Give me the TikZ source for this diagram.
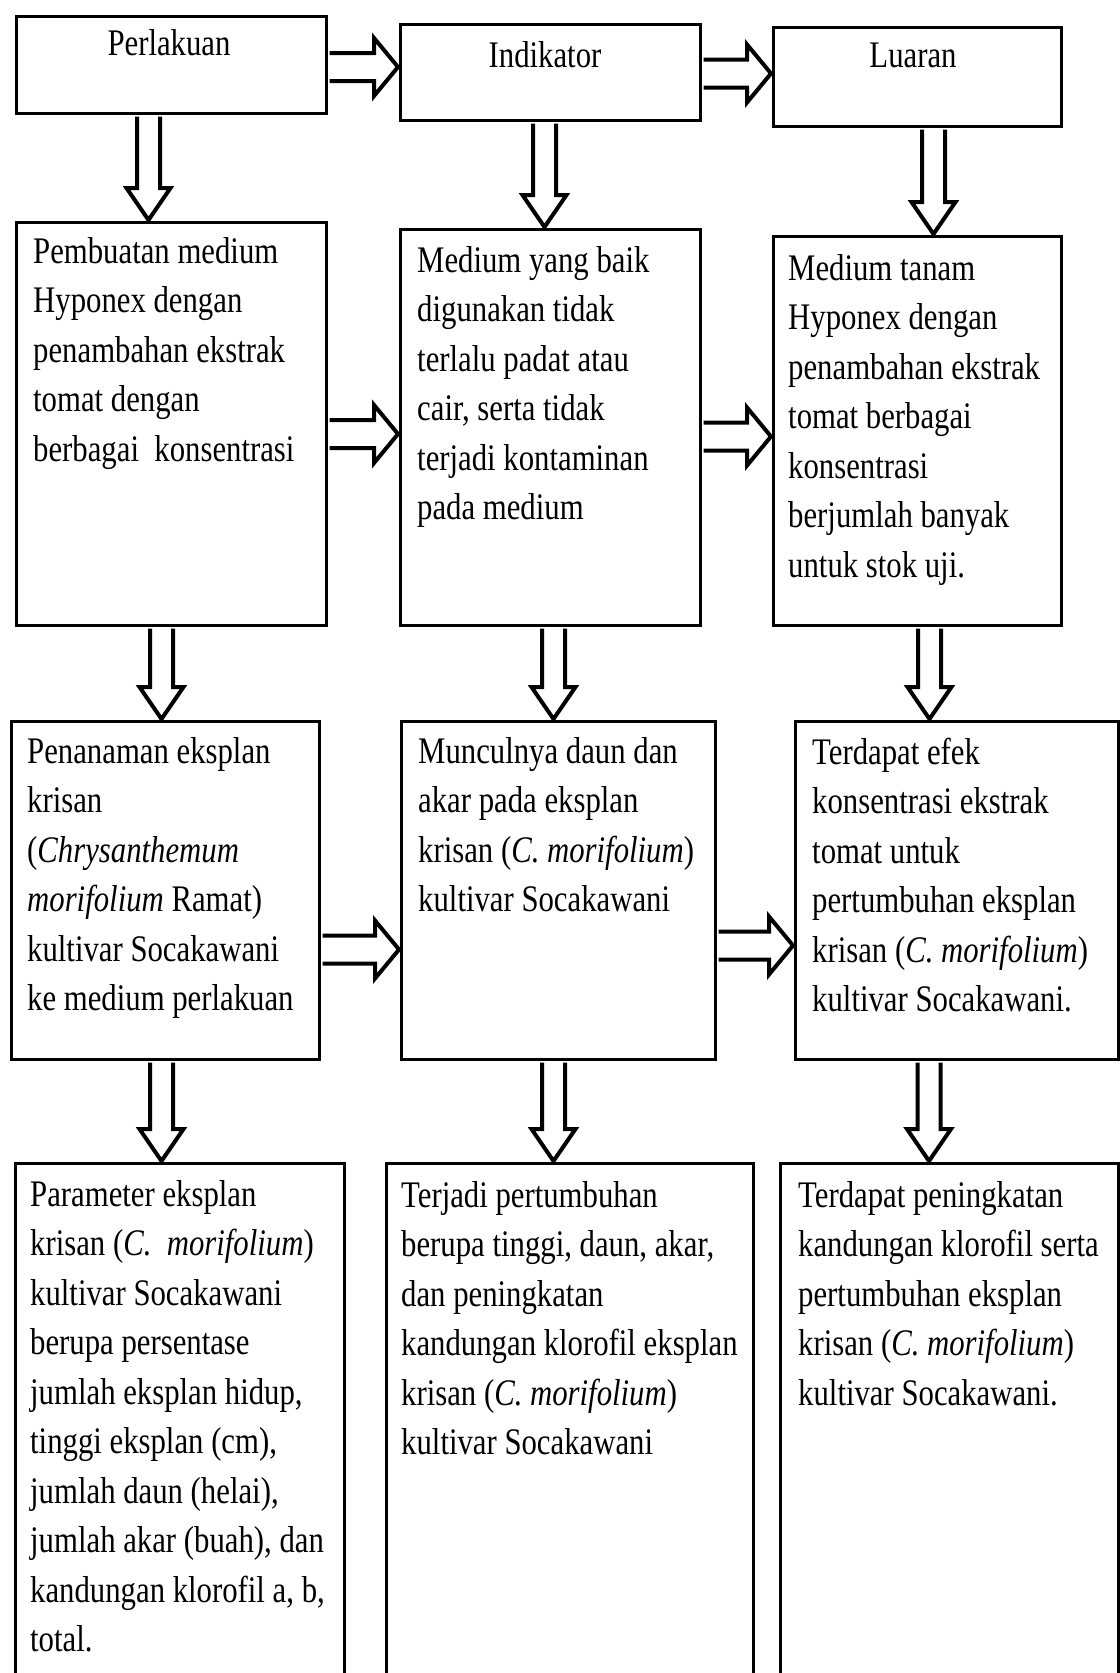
\documentclass[tikz,border=0pt]{standalone}
\usepackage{fontspec}
\setmainfont{Liberation Serif}[FakeStretch=0.82]
\usetikzlibrary{calc}

\newcommand{\bodyfont}{\fontsize{37.5}{49.5}\selectfont}
% hollow block arrows, drawn from node to node
\newcommand{\downarr}[2]{%
  \draw[blockarr] let \p1=(#1), \p2=(#2) in
    (\x1-11.5pt,\y1-1.5pt) -- (\x1-11.5pt,\y2+33pt) -- (\x1-22pt,\y2+33pt) -- (\x1,\y2+1pt)
    -- (\x1+22pt,\y2+33pt) -- (\x1+11.5pt,\y2+33pt) -- (\x1+11.5pt,\y1-1.5pt);}
\newcommand{\rightarr}[2]{%
  \draw[blockarr] let \p1=(#1), \p2=(#2) in
    (\x1+1.5pt,\y1+14pt) -- (\x2-25pt,\y1+14pt) -- (\x2-25pt,\y1+29pt) -- (\x2-1pt,\y1)
    -- (\x2-25pt,\y1-29pt) -- (\x2-25pt,\y1-14pt) -- (\x1+1.5pt,\y1-14pt);}

\begin{document}
\begin{tikzpicture}[x=1pt,y=-1pt,
    box/.style={draw, line width=3pt, anchor=north west, inner sep=0pt},
    head/.style={anchor=base, inner sep=0pt, font=\bodyfont},
    txt/.style={anchor=base west, inner sep=0pt, font=\bodyfont},
    blockarr/.style={draw=black, fill=white, line width=4pt, line join=miter}]
  \useasboundingbox (0,0) rectangle (1119,1673);

  % top row
  \node[box, minimum width=310pt, minimum height=97pt] (A1) at (15,15) {};
  \node[box, minimum width=300pt, minimum height=96pt] (B1) at (399,23) {};
  \node[box, minimum width=288pt, minimum height=99pt] (C1) at (772,26) {};
  \node[head] (hA1) at (169,55) {Perlakuan};
  \node[head] (hB1) at (545,67) {Indikator};
  \node[head] (hC1) at (913,67) {Luaran};

  % second row
  \node[box, minimum width=310pt, minimum height=403pt] (A2) at (15,221) {};
  \node[box, minimum width=300pt, minimum height=396pt] (B2) at (399,228) {};
  \node[box, minimum width=288pt, minimum height=389pt] (C2) at (772,235) {};
  \node[txt] (tA2) at (33,263) {\parbox[t]{400pt}{Pembuatan medium\\Hyponex dengan\\penambahan ekstrak\\tomat dengan\\berbagai\ \ konsentrasi}};
  \node[txt] (tB2) at (417,272) {\parbox[t]{400pt}{Medium yang baik\\digunakan tidak\\terlalu padat atau\\cair, serta tidak\\terjadi kontaminan\\pada medium}};
  \node[txt] (tC2) at (788,280) {\parbox[t]{400pt}{Medium tanam\\Hyponex dengan\\penambahan ekstrak\\tomat berbagai\\konsentrasi\\berjumlah banyak\\untuk stok uji.}};

  % third row
  \node[box, minimum width=308pt, minimum height=338pt] (A3) at (10,720) {};
  \node[box, minimum width=314pt, minimum height=338pt] (B3) at (400,720) {};
  \node[box, minimum width=323pt, minimum height=338pt] (C3) at (794,720) {};
  \node[txt] (tA3) at (27,763) {\parbox[t]{400pt}{Penanaman eksplan\\krisan\\(\textit{Chrysanthemum}\\\textit{morifolium} Ramat)\\kultivar Socakawani\\ke medium perlakuan}};
  \node[txt] (tB3) at (418,763) {\parbox[t]{400pt}{Munculnya daun dan\\akar pada eksplan\\krisan (\textit{C. morifolium})\\kultivar Socakawani}};
  \node[txt] (tC3) at (812,764) {\parbox[t]{400pt}{Terdapat efek\\konsentrasi ekstrak\\tomat untuk\\pertumbuhan eksplan\\krisan (\textit{C. morifolium})\\kultivar Socakawani.}};

  % bottom row, runs off the page
  \node[box, minimum width=329pt, minimum height=540pt] (A4) at (14,1162) {};
  \node[box, minimum width=367pt, minimum height=540pt] (B4) at (385,1162) {};
  \node[box, minimum width=338pt, minimum height=540pt] (C4) at (779,1162) {};
  \node[txt] (tA4) at (30,1206) {\parbox[t]{400pt}{Parameter eksplan\\krisan (\textit{C.\ \ morifolium})\\kultivar Socakawani\\berupa persentase\\jumlah eksplan hidup,\\tinggi eksplan (cm),\\jumlah daun (helai),\\jumlah akar (buah), dan\\kandungan klorofil a, b,\\total.}};
  \node[txt] (tB4) at (401,1207) {\parbox[t]{400pt}{Terjadi pertumbuhan\\berupa tinggi, daun, akar,\\dan peningkatan\\kandungan klorofil eksplan\\krisan (\textit{C. morifolium})\\kultivar Socakawani}};
  \node[txt] (tC4) at (798,1207) {\parbox[t]{400pt}{Terdapat peningkatan\\kandungan klorofil serta\\pertumbuhan eksplan\\krisan (\textit{C. morifolium})\\kultivar Socakawani.}};

  % arrows across
  \rightarr{[yshift=-2pt]A1.east}{B1.west}
  \rightarr{[yshift=-1pt]B1.east}{C1.west}
  \rightarr{[yshift=-10pt]A2.east}{B2.west}
  \rightarr{[yshift=-9pt]B2.east}{C2.west}
  \rightarr{[yshift=-59pt]A3.east}{B3.west}
  \rightarr{[yshift=-55pt]B3.east}{C3.west}

  % arrows down
  \downarr{[xshift=-23pt]A1.south}{A2.north}
  \downarr{[xshift=-6pt]B1.south}{B2.north}
  \downarr{[xshift=16pt]C1.south}{C2.north}
  \downarr{[xshift=-10pt]A2.south}{A3.north}
  \downarr{[xshift=3pt]B2.south}{B3.north}
  \downarr{[xshift=12pt]C2.south}{C3.north}
  \downarr{[xshift=-4pt]A3.south}{A4.north}
  \downarr{[xshift=-5pt]B3.south}{B4.north}
  \downarr{[xshift=-28pt]C3.south}{C4.north}
\end{tikzpicture}
\end{document}
